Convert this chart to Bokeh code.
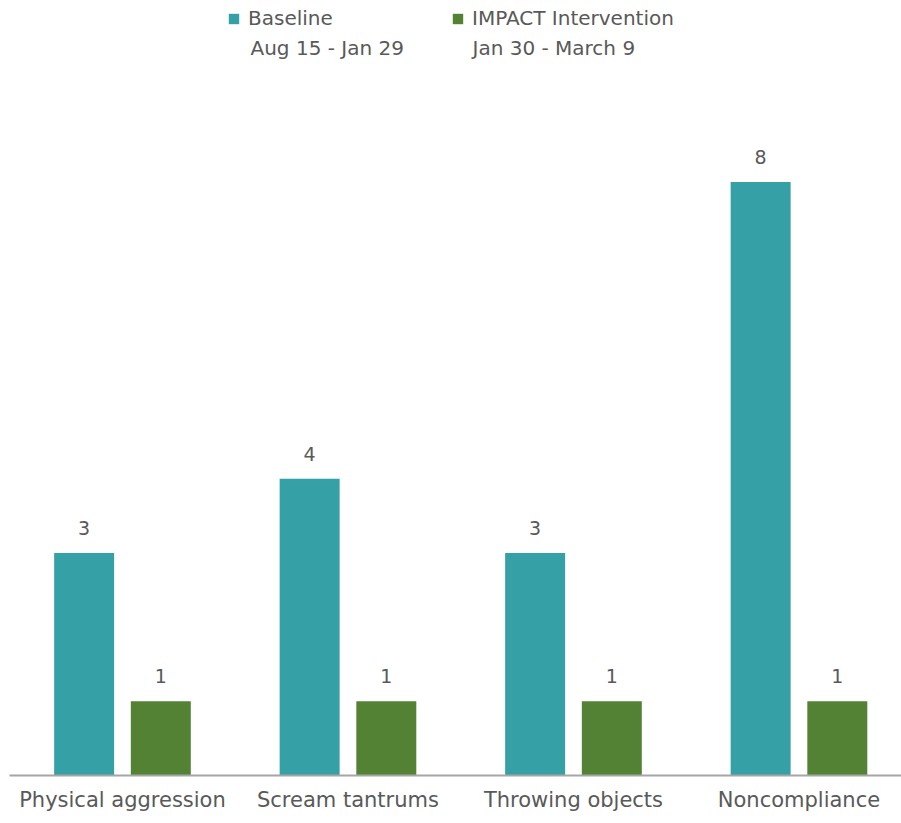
from bokeh.plotting import figure
from bokeh.models import ColumnDataSource, Legend, LegendItem, Label, FixedTicker
from bokeh.core.properties import value
from bokeh.embed import file_html
from bokeh.resources import INLINE

categories = ["Physical aggression", "Scream tantrums", "Throwing objects", "Noncompliance"]
baseline = [3, 4, 3, 8]
intervention = [1, 1, 1, 1]
series_names = ["Baseline", "IMPACT Intervention"]
series_periods = ["Aug 15 - Jan 29", "Jan 30 - March 9"]

TEAL = "#35A0A6"
GREEN = "#548235"
TEXT = "#595959"
FONT = "DejaVu Sans"

idx = list(range(len(categories)))
src = ColumnDataSource(dict(
    x=idx,
    xb=[i - 0.17 for i in idx],
    xi=[i + 0.17 for i in idx],
    base=baseline,
    inter=intervention,
    base_lbl=[str(v) for v in baseline],
    inter_lbl=[str(v) for v in intervention],
))

W, H = 901, 823
frame_left, frame_bottom_px = 9, 775
px_per_unit = 74.2
y_end = frame_bottom_px / px_per_unit
x_start = -0.501
x_end = x_start + (W - frame_left) / 225.5

p = figure(width=W, height=H, output_backend="svg", toolbar_location=None,
           x_range=(x_start, x_end), y_range=(0, y_end),
           min_border_left=frame_left, min_border_right=0, min_border_top=0,
           min_border_bottom=H - frame_bottom_px)
p.outline_line_color = None
p.xgrid.visible = False
p.ygrid.visible = False
p.yaxis.visible = False
p.background_fill_color = "white"
p.border_fill_color = "white"

bw = 0.266
rb = p.vbar(x="xb", top="base", width=bw, source=src, fill_color=TEAL, line_color=None)
ri = p.vbar(x="xi", top="inter", width=bw, source=src, fill_color=GREEN, line_color=None)

p.text(x="xb", y="base", text="base_lbl", source=src, text_align="center",
       text_baseline="bottom", y_offset=-18, text_font=value(FONT),
       text_font_size="19px", text_color=TEXT)
p.text(x="xi", y="inter", text="inter_lbl", source=src, text_align="center",
       text_baseline="bottom", y_offset=-18, text_font=value(FONT),
       text_font_size="19px", text_color=TEXT)

ax = p.xaxis[0]
ax.ticker = FixedTicker(ticks=idx)
ax.major_label_overrides = {i: c for i, c in zip(idx, categories)}
ax.major_tick_line_color = None
ax.minor_tick_line_color = None
ax.major_tick_out = 0
ax.major_tick_in = 0
ax.axis_line_color = "#A6A6A6"
ax.axis_line_width = 2
ax.major_label_standoff = 12
ax.major_label_text_font = FONT
ax.major_label_text_font_size = "21px"
ax.major_label_text_color = TEXT

legend = Legend(items=[LegendItem(label=series_names[0], renderers=[rb]),
                       LegendItem(label=series_names[1], renderers=[ri])],
                orientation="horizontal", location=(218, 745),
                border_line_color=None, background_fill_alpha=0,
                padding=0, margin=0, spacing=0,
                glyph_width=13, glyph_height=13, label_standoff=8,
                label_width=203, label_height=20,
                label_text_font=FONT, label_text_font_size="20px",
                label_text_color=TEXT)
p.add_layout(legend)

# second legend line (period text)
for xi_px, txt in zip([250, 472], series_periods):
    p.add_layout(Label(x=xi_px - frame_left, y=frame_bottom_px - 47,
                       x_units="screen", y_units="screen", text=txt,
                       text_font=FONT, text_font_size="20px", text_color=TEXT,
                       text_baseline="middle", text_align="left"))

open("out.html", "w").write(file_html(p, INLINE))
